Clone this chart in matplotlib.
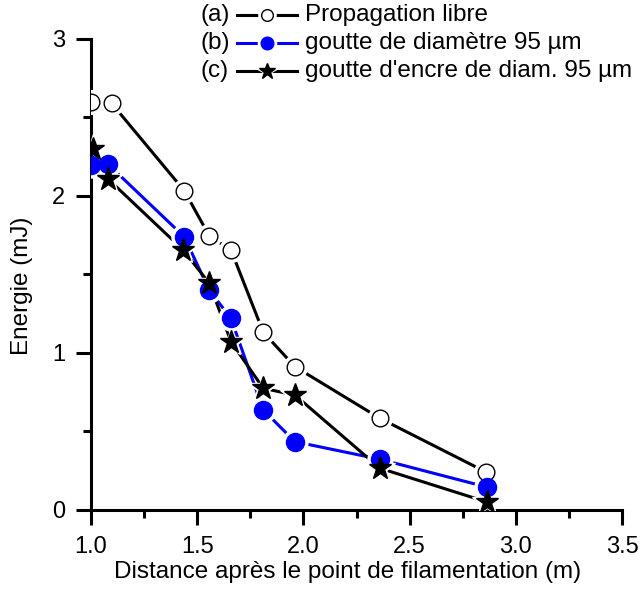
import matplotlib
matplotlib.use("Agg")
import matplotlib.pyplot as plt
from matplotlib.lines import Line2D
from matplotlib.ticker import MultipleLocator

plt.rcParams['font.family'] = ['Liberation Sans', 'DejaVu Sans']

# données
x_a = [1.0, 1.097, 1.439, 1.557, 1.659, 1.811, 1.96, 2.36, 2.862]
y_a = [2.60, 2.59, 2.034, 1.745, 1.656, 1.132, 0.913, 0.584, 0.24]

x_b = [1.0, 1.079, 1.439, 1.557, 1.659, 1.811, 1.96, 2.36, 2.866]
y_b = [2.197, 2.204, 1.74, 1.40, 1.22, 0.637, 0.435, 0.323, 0.145]

x_c = [1.01, 1.079, 1.434, 1.557, 1.659, 1.811, 1.96, 2.36, 2.866]
y_c = [2.30, 2.11, 1.656, 1.444, 1.072, 0.775, 0.732, 0.266, 0.05]

labels = ["Propagation libre", "goutte de diamètre 95 µm",
          "goutte d'encre de diam. 95 µm"]
tags = ["(a)", "(b)", "(c)"]

styles = [
    dict(color='black', marker='o', mfc='white', mec='black', ms=12, mew=1.0),
    dict(color='#0000ff', marker='o', mfc='#0000ff', mec='#0000ff', ms=13, mew=1.0),
    dict(color='black', marker='*', mfc='black', mec='black', ms=17, mew=1.0),
]

fig = plt.figure(figsize=(6.4, 5.93), dpi=100)
ax = fig.add_axes([91 / 640, 0.14, 531 / 640, 471 / 593])

series = [(x_a, y_a), (x_b, y_b), (x_c, y_c)]
for i, ((xs, ys), st) in enumerate(zip(series, styles)):
    ax.plot(xs, ys, '-', color=st['color'], lw=2.2, zorder=2 + i * 0.1)
    # halo blanc autour des symboles (style Origin)
    ax.plot(xs, ys, ls='none', marker=st['marker'], ms=st['ms'] + 5,
            mfc='white', mec='white', zorder=3 + i * 0.1)
for i, ((xs, ys), st) in enumerate(zip(series, styles)):
    ax.plot(xs, ys, ls='none', marker=st['marker'], ms=st['ms'],
            mfc=st['mfc'], mec=st['mec'], mew=st['mew'], zorder=4 + i * 0.1)

ax.set_xlim(1.0, 3.5)
ax.set_ylim(0, 3)
ax.xaxis.set_major_locator(MultipleLocator(0.5))
ax.xaxis.set_minor_locator(MultipleLocator(0.25))
ax.yaxis.set_major_locator(MultipleLocator(1))
ax.yaxis.set_minor_locator(MultipleLocator(0.5))
ax.xaxis.set_major_formatter(plt.FuncFormatter(lambda v, p: f"{v:.1f}"))
ax.yaxis.set_major_formatter(plt.FuncFormatter(lambda v, p: f"{v:.0f}"))

for s in ['top', 'right']:
    ax.spines[s].set_visible(False)
for s in ['left', 'bottom']:
    ax.spines[s].set_linewidth(2.2)
ax.tick_params(which='major', direction='out', length=10.5, width=2.2,
               labelsize=17, pad=8)
ax.tick_params(which='minor', direction='out', length=5.5, width=2.2)

ax.set_xlabel("Distance après le point de filamentation (m)", fontsize=17.5)
ax.xaxis.set_label_coords(0.484, -0.108)
ax.set_ylabel("Energie (mJ)", fontsize=17.5)
ax.yaxis.set_label_coords(-0.109, 0.475)

# légende manuelle
W, H = 640, 593
rows = [15, 43, 71]
for tag, lab, st, yp in zip(tags, labels, styles, rows):
    yf = 1 - yp / H
    fig.text(200 / W, yf, tag, fontsize=17.5, va='center', ha='left')
    fig.add_artist(Line2D([237 / W, 297 / W], [yf, yf], color=st['color'],
                          lw=2.2))
    fig.add_artist(Line2D([267 / W], [yf], ls='none', marker=st['marker'],
                          ms=st['ms'] * 0.7 + 4, mfc='white', mec='white'))
    fig.add_artist(Line2D([267 / W], [yf], ls='none', marker=st['marker'],
                          ms=st['ms'] * 0.7, mfc=st['mfc'], mec=st['mec'],
                          mew=st['mew']))
    fig.text(305 / W, yf, lab, fontsize=17.5, va='center', ha='left')

fig.savefig("out.png", dpi=100)
